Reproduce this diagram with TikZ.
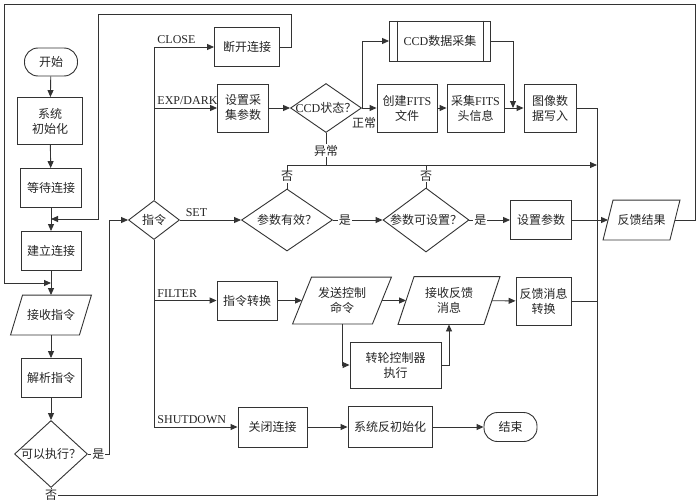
\documentclass[tikz,border=0pt]{standalone}
\usepackage{fontspec}
\setmainfont{Liberation Serif}
\newfontfamily\cjk{Noto Sans CJK SC}
\usetikzlibrary{shapes.geometric,arrows.meta,calc}
\newcommand\en[1]{{\rmfamily #1}}
\newcommand\paral[2]{\draw[ln] ([xshift=#2]#1.north west) -- ([xshift=#2]#1.north east) -- ([xshift=-#2]#1.south east) -- ([xshift=-#2]#1.south west) -- cycle;}
\begin{document}
\begin{tikzpicture}[x=1pt,y=-1pt,
  ln/.style={draw=black!80, line width=0.9pt},
  arr/.style={ln, -{Triangle[length=7pt,width=6pt]}},
  base/.style={ln, fill=white, text=black!85, font=\cjk\fontsize{12}{15}\selectfont, align=center, inner sep=0pt},
  box/.style={base, rectangle},
  term/.style={base, rectangle, rounded corners=13.5pt},
  dia/.style={base, diamond},
  para/.style={base, draw=none, fill=none},
  lbl/.style={text=black!85, font=\fontsize{12}{15}\selectfont, inner sep=1pt},
  zlbl/.style={lbl, font=\cjk\fontsize{12}{15}\selectfont, fill=white},
  blbl/.style={lbl, anchor=south west, xshift=2pt, yshift=1.5pt},
]
\useasboundingbox (0,0) rectangle (700,503);
\fill[white] (0,0) rectangle (700,503);
% left column
\node[term, minimum width=53pt, minimum height=28pt] (start) at (51,62) {开始};
\node[box, minimum width=65pt, minimum height=47pt] (init) at (50,121) {系统\\初始化};
\node[box, minimum width=61pt, minimum height=39pt] (wait) at (51,188) {等待连接};
\node[box, minimum width=60pt, minimum height=39pt] (conn) at (51,251) {建立连接};
\node[para, minimum width=68pt, minimum height=39pt] (recvcmd) at (51,315) {接收指令};
\paral{recvcmd}{6pt}
\node[box, minimum width=60pt, minimum height=39pt] (parse) at (51,378) {解析指令};
\node[dia, minimum width=73pt, minimum height=67pt] (can) at (51,454) {\makebox[0pt]{可以执行？}};
% command dispatch
\node[dia, minimum width=51pt, minimum height=39pt] (cmd) at (154,220) {\makebox[0pt]{指令}};
\node[box, minimum width=65pt, minimum height=39pt] (close) at (247,47) {断开连接};
\node[box, minimum width=51pt, minimum height=48pt] (setacq) at (243,108) {设置采\\集参数};
\node[dia, minimum width=71pt, minimum height=49pt] (ccd) at (326,108) {\makebox[0pt]{\en{CCD}状态？}};
\node[box, minimum width=101pt, minimum height=40pt] (ccdacq) at (440,41) {\en{CCD}数据采集};
\draw[ln] ([xshift=8pt]ccdacq.north west) -- ([xshift=8pt]ccdacq.south west);
\draw[ln] ([xshift=-8pt]ccdacq.north east) -- ([xshift=-8pt]ccdacq.south east);
\node[box, minimum width=60pt, minimum height=48pt] (mkfits) at (407,108) {创建\en{FITS}\\文件};
\node[box, minimum width=57pt, minimum height=48pt] (fitshdr) at (475.5,108) {采集\en{FITS}\\头信息};
\node[box, minimum width=52pt, minimum height=48pt] (img) at (550,108) {图像数\\据写入};
\node[dia, minimum width=91pt, minimum height=62pt] (valid) at (287,220) {\makebox[0pt]{参数有效？}};
\node[dia, minimum width=86pt, minimum height=64pt] (settable) at (426,220) {\makebox[0pt]{参数可设置？}};
\node[box, minimum width=61pt, minimum height=39pt] (setpar) at (541,220) {设置参数};
\node[para, minimum width=66pt, minimum height=39pt] (fb) at (641.5,220) {反馈结果};
\paral{fb}{5pt}
\node[box, minimum width=60pt, minimum height=39pt] (conv) at (247,300.5) {指令转换};
\node[para, minimum width=79pt, minimum height=46pt] (send) at (342,300.5) {发送控制\\命令};
\paral{send}{9.5pt}
\node[box, minimum width=91pt, minimum height=46pt] (wheel) at (395.5,365) {转轮控制器\\执行};
\node[para, minimum width=85pt, minimum height=47pt] (recv) at (449,300.5) {接收反馈\\消息};
\paral{recv}{8pt}
\node[box, minimum width=55pt, minimum height=48pt] (fbconv) at (543.5,301) {反馈消息\\转换};
\node[box, minimum width=69pt, minimum height=40pt] (shut) at (272.5,427) {关闭连接};
\node[box, minimum width=84pt, minimum height=41pt] (deinit) at (390,427) {系统反初始化};
\node[term, minimum width=53pt, minimum height=29pt] (stop) at (510.5,427) {结束};
% coordinates
\coordinate (j1) at (51,219);
\coordinate (j2) at (51,283);
\coordinate (j3) at (513,108);
\coordinate (bus) at (597,220);
% left column connectors
\draw[arr] (start) -- (init);
\draw[arr] (init) -- (wait);
\draw[arr] (wait) -- (conn);
\draw[arr] (close.east) -- ++(11,0) |- (98,14) |- (j1);
\draw[arr] (conn) -- (recvcmd);
\draw[arr] (fb.east) -| (695,4) -| (4,283) -- (j2);
\draw[arr] (recvcmd) -- (parse);
\draw[arr] (parse) -- (can);
\draw[arr] (can.east) -- node[zlbl, pos=0.5]{是} (109,454) |- (cmd.west);
\draw[ln] (can.south) |- node[zlbl, pos=0.5]{否} (597,495) -- (bus);
% dispatch bus
\draw[arr] (cmd.north) |- node[blbl, pos=0.5]{CLOSE} (close.west);
\draw[arr] (cmd.north) |- node[blbl, pos=0.5]{EXP/DARK} (setacq.west);
\draw[arr] (cmd.east) -- node[lbl, above=1.5pt, pos=0.27]{SET} (valid.west);
\draw[arr] (cmd.south) |- node[blbl, pos=0.5]{FILTER} (conv.west);
\draw[arr] (cmd.south) |- node[blbl, pos=0.5]{SHUTDOWN} (shut.west);
% acquisition
\draw[arr] (setacq) -- (ccd);
\draw[arr] (ccd.east) -- (mkfits.west);
\node[lbl, font=\cjk\fontsize{12}{15}\selectfont] (normal) at (364,123) {正常};
\draw[arr] (ccd.east) |- (ccdacq.west);
\draw[arr] (mkfits) -- (fitshdr);
\draw[arr] (fitshdr) -- (img);
\draw[arr] (ccdacq.east) -| (j3);
\draw[ln] (img.east) -| (bus);
\draw[arr] (ccd.south) -- node[zlbl, pos=0.55]{异常} (326,165) -- (597,165);
\draw[ln] (valid.north) -- node[zlbl, pos=0.5]{否} (287,165) -- (326,165);
\draw[ln] (settable.north) -- node[zlbl, pos=0.5]{否} (426,165);
\draw[arr] (valid.east) -- node[zlbl, pos=0.24]{是} (settable.west);
\draw[arr] (settable.east) -- node[zlbl, pos=0.27]{是} (setpar.west);
\draw[arr] (setpar) -- (fb);
% filter
\draw[arr] (conv) -- (send);
\draw[arr] (send) -- (recv);
\draw[arr] (recv) -- (fbconv);
\draw[arr] (send.south) |- (wheel.west);
\draw[arr] (wheel.east) -| (recv.south);
\draw[ln] (fbconv.east) -- (597,301);
% shutdown
\draw[arr] (shut) -- (deinit);
\draw[arr] (deinit) -- (stop);
\end{tikzpicture}
\end{document}
